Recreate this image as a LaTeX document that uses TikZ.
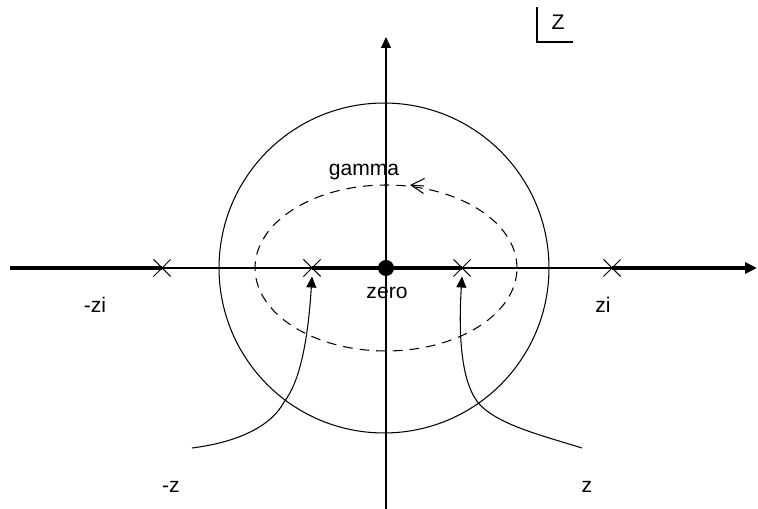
\documentclass[tikz,border=0pt]{standalone}
\usepackage{fontspec}
\setmainfont{Liberation Sans}
\usetikzlibrary{shapes.misc, arrows.meta}
\tikzstyle{cx}=[shape=cross out, draw, minimum size=3.2mm, inner sep=0, line width=.6pt]
\tikzstyle{dot}=[shape=circle, minimum size=3.2mm, inner sep=0, fill=black]
\tikzstyle{lbl}=[font=\fontsize{12}{14}\selectfont, inner sep=0]
\tikzstyle{thin}=[line width=.6pt]
\tikzstyle{heavy}=[line width=1.8pt]
\tikzstyle{tip}=[-{Triangle[length=2.2mm, width=2mm]}]

\begin{document}
\begin{tikzpicture}[x=.02cm, y=-.02cm]
\useasboundingbox (0,0) rectangle (758,509);
% axes
\coordinate (w) at (10,268);
\coordinate (e) at (757,268);
\coordinate (s) at (386,509);
\coordinate (n) at (386,37);
\node at (162,268)[cx](mzi){};
\node at (312,268)[cx](mz){};
\node at (462,268)[cx](pz){};
\node at (612,268)[cx](zi){};
\draw[thin, tip] (s)--(n);
\node at (384,268)[draw, thin, circle, minimum size=6.6cm, inner sep=0](disc){};
\draw[heavy] (w)--(mzi.center);
\draw[thin] (mzi.center)--(mz.center);
\draw[heavy] (mz.center)--(pz.center);
\draw[thin] (pz.center)--(zi.center);
\draw[heavy, -{Triangle[length=2.4mm, width=2.2mm]}] (zi.center)--(e);
\node at (386,268)[dot](o){};
% contour
\draw[thin, dash pattern=on 5.5pt off 4pt] (o) ellipse [x radius=2.62cm, y radius=1.66cm];
\coordinate (g1) at (424,186);
\coordinate (g0) at (410,185);
\draw[thin, -{Straight Barb[length=2.6mm, width=3mm]}] (g1)--(g0);
% paths
\coordinate (la) at (192,448);
\coordinate (lb) at (284,402);
\coordinate (ra) at (582,448);
\coordinate (rb) at (480,405);
\draw[thin, tip] (la) .. controls (240,442) and (272,425) .. (lb)
  .. controls (300,382) and (308,340) .. (mz.south);
\draw[thin, tip] (ra) .. controls (540,435) and (500,425) .. (rb)
  .. controls (462,385) and (458,340) .. (pz.south);
% labels
\node at (364,172)[lbl](gamma){gamma};
\node at (387,293)[lbl](zero){zero};
\node at (95,305)[lbl](lmzi){-zi};
\node at (603,305)[lbl](lzi){zi};
\node at (171,487)[lbl](lmz){-z};
\node at (587,487)[lbl](lz){z};
% frame
\coordinate (f0) at (537,7);
\coordinate (f1) at (537,42);
\coordinate (f2) at (573,42);
\draw[thin] (f0)--(f1)--(f2);
\node at (558,22)[lbl](big){Z};
\end{tikzpicture}
\end{document}
